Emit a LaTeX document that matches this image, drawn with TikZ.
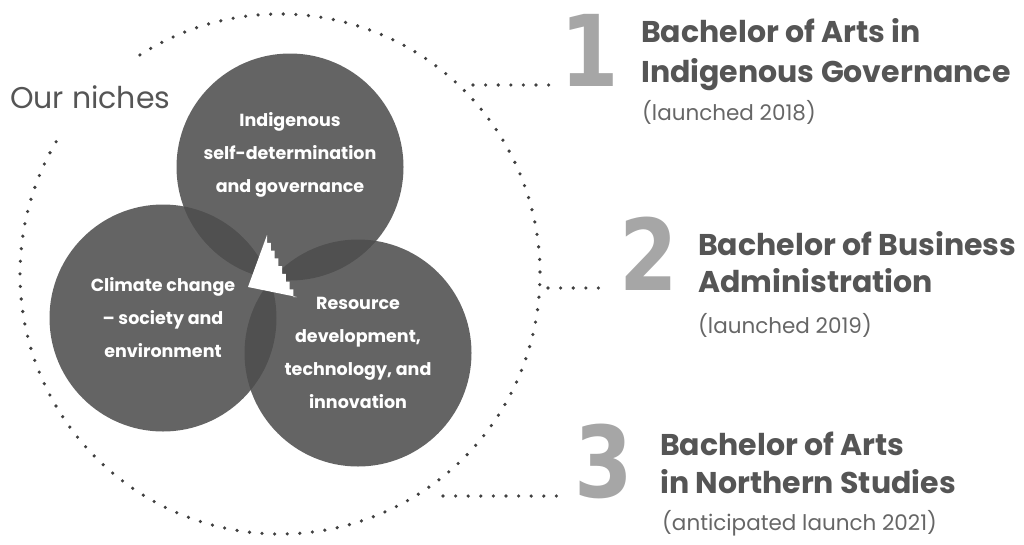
\documentclass[tikz,border=0pt]{standalone}
\usepackage{fontspec}
\usepackage{graphicx}
\setmainfont{Poppins}
\newfontfamily\digitfont{DejaVu Sans}
\usetikzlibrary{positioning}

\definecolor{nichegray}{HTML}{4D4D4D}
\definecolor{titlegray}{HTML}{555555}
\definecolor{dotgray}{HTML}{404040}
\definecolor{numgray}{HTML}{A6A6A6}
\definecolor{subgray}{HTML}{666666}

\tikzset{
  niche/.style={circle, minimum size=227pt, inner sep=0pt, fill=nichegray, fill opacity=0.87},
  nichetext/.style={text=white, align=center, inner sep=0pt, font=\bfseries\fontsize{17.5}{33}\selectfont},
  dotline/.style={draw=dotgray, line width=3.6pt, line cap=round, dash pattern=on 0pt off 12.6pt},
  bignum/.style={text=numgray, anchor=base west, inner sep=0pt},
  prog/.style={text=titlegray, anchor=base west, inner sep=0pt, font=\bfseries\fontsize{30}{30}\selectfont},
  launch/.style={text=subgray, anchor=base west, inner sep=0pt, font=\fontsize{21.5}{21.5}\selectfont}
}
\newcommand{\bignumber}[1]{\scalebox{0.85}[1]{\digitfont\bfseries\fontsize{99}{99}\selectfont #1}}

\begin{document}
\begin{tikzpicture}[x=1pt, y=-1pt]
	\useasboundingbox (0,0) rectangle (1024,544);
	
	% dotted ring round the niches
	\coordinate (hub) at (280,274);
	\draw[dotline] (hub) ++(237.4:260) arc[start angle=237.4, end angle=572.6, radius=260];
	\node[anchor=base west, inner sep=0pt, text=titlegray, font=\fontsize{30}{30}\selectfont] (ours) at (10,108) {Our niches};
	
	% the three niches
	\node[niche] (govern) at (290,167) {};
	\node[niche] (climate) at (163,318) {};
	\node[niche] (resource) at (358,353) {};
	\fill[white] (267,235)
		\foreach \s in {1,...,8} { -- ({267+3.75*(\s-1)},{235+7.75*\s}) -- ({267+3.75*\s},{235+7.75*\s}) }
		-- (248,287) -- cycle;
	
	\node[nichetext] (governtext) at ([yshift=12pt]govern.center) {Indigenous\\self-determination\\and governance};
	\node[nichetext] (climatetext) at (climate.center) {Climate change\\-- society and\\environment};
	\node[nichetext] (resourcetext) at (resource.center) {Resource\\development,\\technology, and\\innovation};
	
	% big numbers
	\node[bignum] (one) at (560,86) {\bignumber{1}};
	\node[bignum] (two) at (619,290) {\bignumber{2}};
	\node[bignum] (three) at (574,497) {\bignumber{3}};
	
	% programmes
	\node[prog] (prog1a) at (641,42) {Bachelor of Arts in};
	\node[prog] (prog1b) at (641,82) {Indigenous Governance};
	\node[launch] (launch1) at (642,120) {(launched 2018)};
	
	\node[prog] (prog2a) at (698,255) {Bachelor of Business};
	\node[prog] (prog2b) at (698,292) {Administration};
	\node[launch] (launch2) at (698,333) {(launched 2019)};
	
	\node[prog] (prog3a) at (660,455) {Bachelor of Arts};
	\node[prog] (prog3b) at (660,493) {in Northern Studies};
	\node[launch] (launch3) at (662,530) {(anticipated launch 2021)};
	
	% dotted leaders
	\coordinate (lead1) at (473,85);
	\coordinate (lead2) at (548,288);
	\coordinate (lead3) at (443,496);
	\draw[dotline] (lead1) -- ([xshift=-10pt]lead1 -| one.west);
	\draw[dotline] (lead2) -- ([xshift=-14pt]lead2 -| two.west);
	\draw[dotline] (lead3) -- ([xshift=-12pt]lead3 -| three.west);
\end{tikzpicture}
\end{document}
